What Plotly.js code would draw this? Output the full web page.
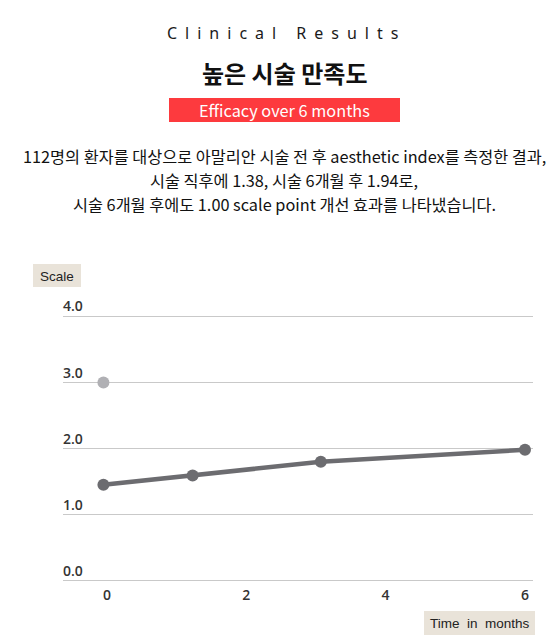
<!DOCTYPE html>
<html>
<head>
<meta charset="utf-8">
<script src="https://cdn.plot.ly/plotly-3.0.1.min.js"></script>
<style>
  html, body { margin: 0; padding: 0; background: #fff; }
  #chart { width: 555px; height: 637px; }
</style>
</head>
<body>
<div id="chart"></div>
<script>
// valores
const months = [-0.05, 1.23, 3.07, 6.0];
const scores = [1.45, 1.59, 1.80, 1.98];
const baselineMonth = [-0.05];
const baselineScore = [3.0];
const xTicks = [0, 2, 4, 6];
const yTicks = [0, 1, 2, 3, 4];

const headerText = 'Clinical Results';
const titleText = '높은 시술 만족도';
const badgeText = 'Efficacy over 6 months';
const bodyLines = [
  '112명의 환자를 대상으로 아말리안 시술 전 후 aesthetic index를 측정한 결과,',
  '시술 직후에 1.38, 시술 6개월 후 1.94로,',
  '시술 6개월 후에도 1.00 scale point 개선 효과를 나타냈습니다.'
];
const yLabel = 'Scale';
const xLabel = 'Time in months';

// geometria da pagina (pixels); a area do grafico vai de y=4.02 a y=-0.02
const W = 555, H = 637;
const L = 63, R = 22, T = 315, B = 55;
const pw = W - L - R, ph = H - T - B;
function px(x) { return (x - L) / pw; }
function py(y) { return (H - B - y) / ph; }

// espaçamento largo entre letras do cabeçalho
function spaced(s) {
  return s.split(' ').map(w => w.split('').join('\u2002')).join('\u2002 \u2002');
}

const data = [
  {
    x: months,
    y: scores,
    mode: 'lines+markers',
    line: { color: '#6c6c70', width: 4.5 },
    marker: { color: '#6c6c70', size: 12 },
    hoverinfo: 'skip'
  },
  {
    x: baselineMonth,
    y: baselineScore,
    mode: 'markers',
    marker: { color: '#b0b0b4', size: 12 },
    hoverinfo: 'skip'
  }
];

const korFont = '"Noto Sans CJK KR", "Noto Sans", sans-serif';
const tickFont = { family: '"Open Sans", "Noto Sans", sans-serif', size: 14, color: '#333', weight: 600 };
const labelFont = { family: '"Liberation Sans", Arial, sans-serif', size: 13.5, color: '#222' };

const annotations = [
  { x: px(282), y: py(33), text: spaced(headerText),
    font: { family: '"Noto Sans", sans-serif', size: 16, color: '#1a1a1a' } },
  { x: px(284), y: py(72), text: '<b>' + titleText + '</b>',
    font: { family: korFont, size: 24, color: '#111' } },
  { x: px(284), y: py(110), text: badgeText,
    font: { family: korFont, size: 16.3, color: '#fff' } },
  { x: px(284), y: py(156), text: bodyLines[0],
    font: { family: korFont, size: 16.3, color: '#111' } },
  { x: px(284), y: py(180), text: bodyLines[1],
    font: { family: korFont, size: 16.3, color: '#111' } },
  { x: px(284), y: py(204), text: bodyLines[2],
    font: { family: korFont, size: 16.3, color: '#111' } },
  { x: px(57), y: py(276), text: yLabel, font: labelFont },
  { x: px(480), y: py(623), text: xLabel.split(' ').join(' \u00a0'), font: labelFont }
].map(a => Object.assign({ xref: 'paper', yref: 'paper', showarrow: false,
  xanchor: 'center', yanchor: 'middle' }, a));

const shapes = [
  { x0: px(169), x1: px(400), y0: py(122), y1: py(98), fillcolor: '#fd3a3e' },
  { x0: px(33), x1: px(81), y0: py(287), y1: py(264), fillcolor: '#e9e3d9' },
  { x0: px(424), x1: px(535), y0: py(635), y1: py(611), fillcolor: '#e9e3d9' }
].map(s => Object.assign({ type: 'rect', xref: 'paper', yref: 'paper',
  line: { width: 0 }, layer: 'below' }, s));

const layout = {
  width: W,
  height: H,
  paper_bgcolor: '#fff',
  plot_bgcolor: '#fff',
  margin: { l: L, r: R, t: T, b: B },
  showlegend: false,
  xaxis: {
    range: [-0.63, 6.115],
    tickvals: xTicks,
    ticktext: xTicks.map(String),
    showgrid: false,
    zeroline: false,
    showline: false,
    ticks: '',
    ticklabelstandoff: 3,
    tickfont: tickFont,
    fixedrange: true
  },
  yaxis: {
    range: [-0.02, 4.02],
    tickvals: yTicks,
    ticktext: yTicks.map(v => v.toFixed(1)),
    showgrid: true,
    gridcolor: '#c9c9c9',
    gridwidth: 1.5,
    zeroline: false,
    showline: false,
    ticks: '',
    ticklabelposition: 'inside top',
    ticklabeloverflow: 'allow',
    ticklabelstandoff: -3,
    tickfont: tickFont,
    fixedrange: true
  },
  annotations: annotations,
  shapes: shapes
};

Plotly.newPlot('chart', data, layout, { displayModeBar: false, staticPlot: true });
</script>
</body>
</html>
